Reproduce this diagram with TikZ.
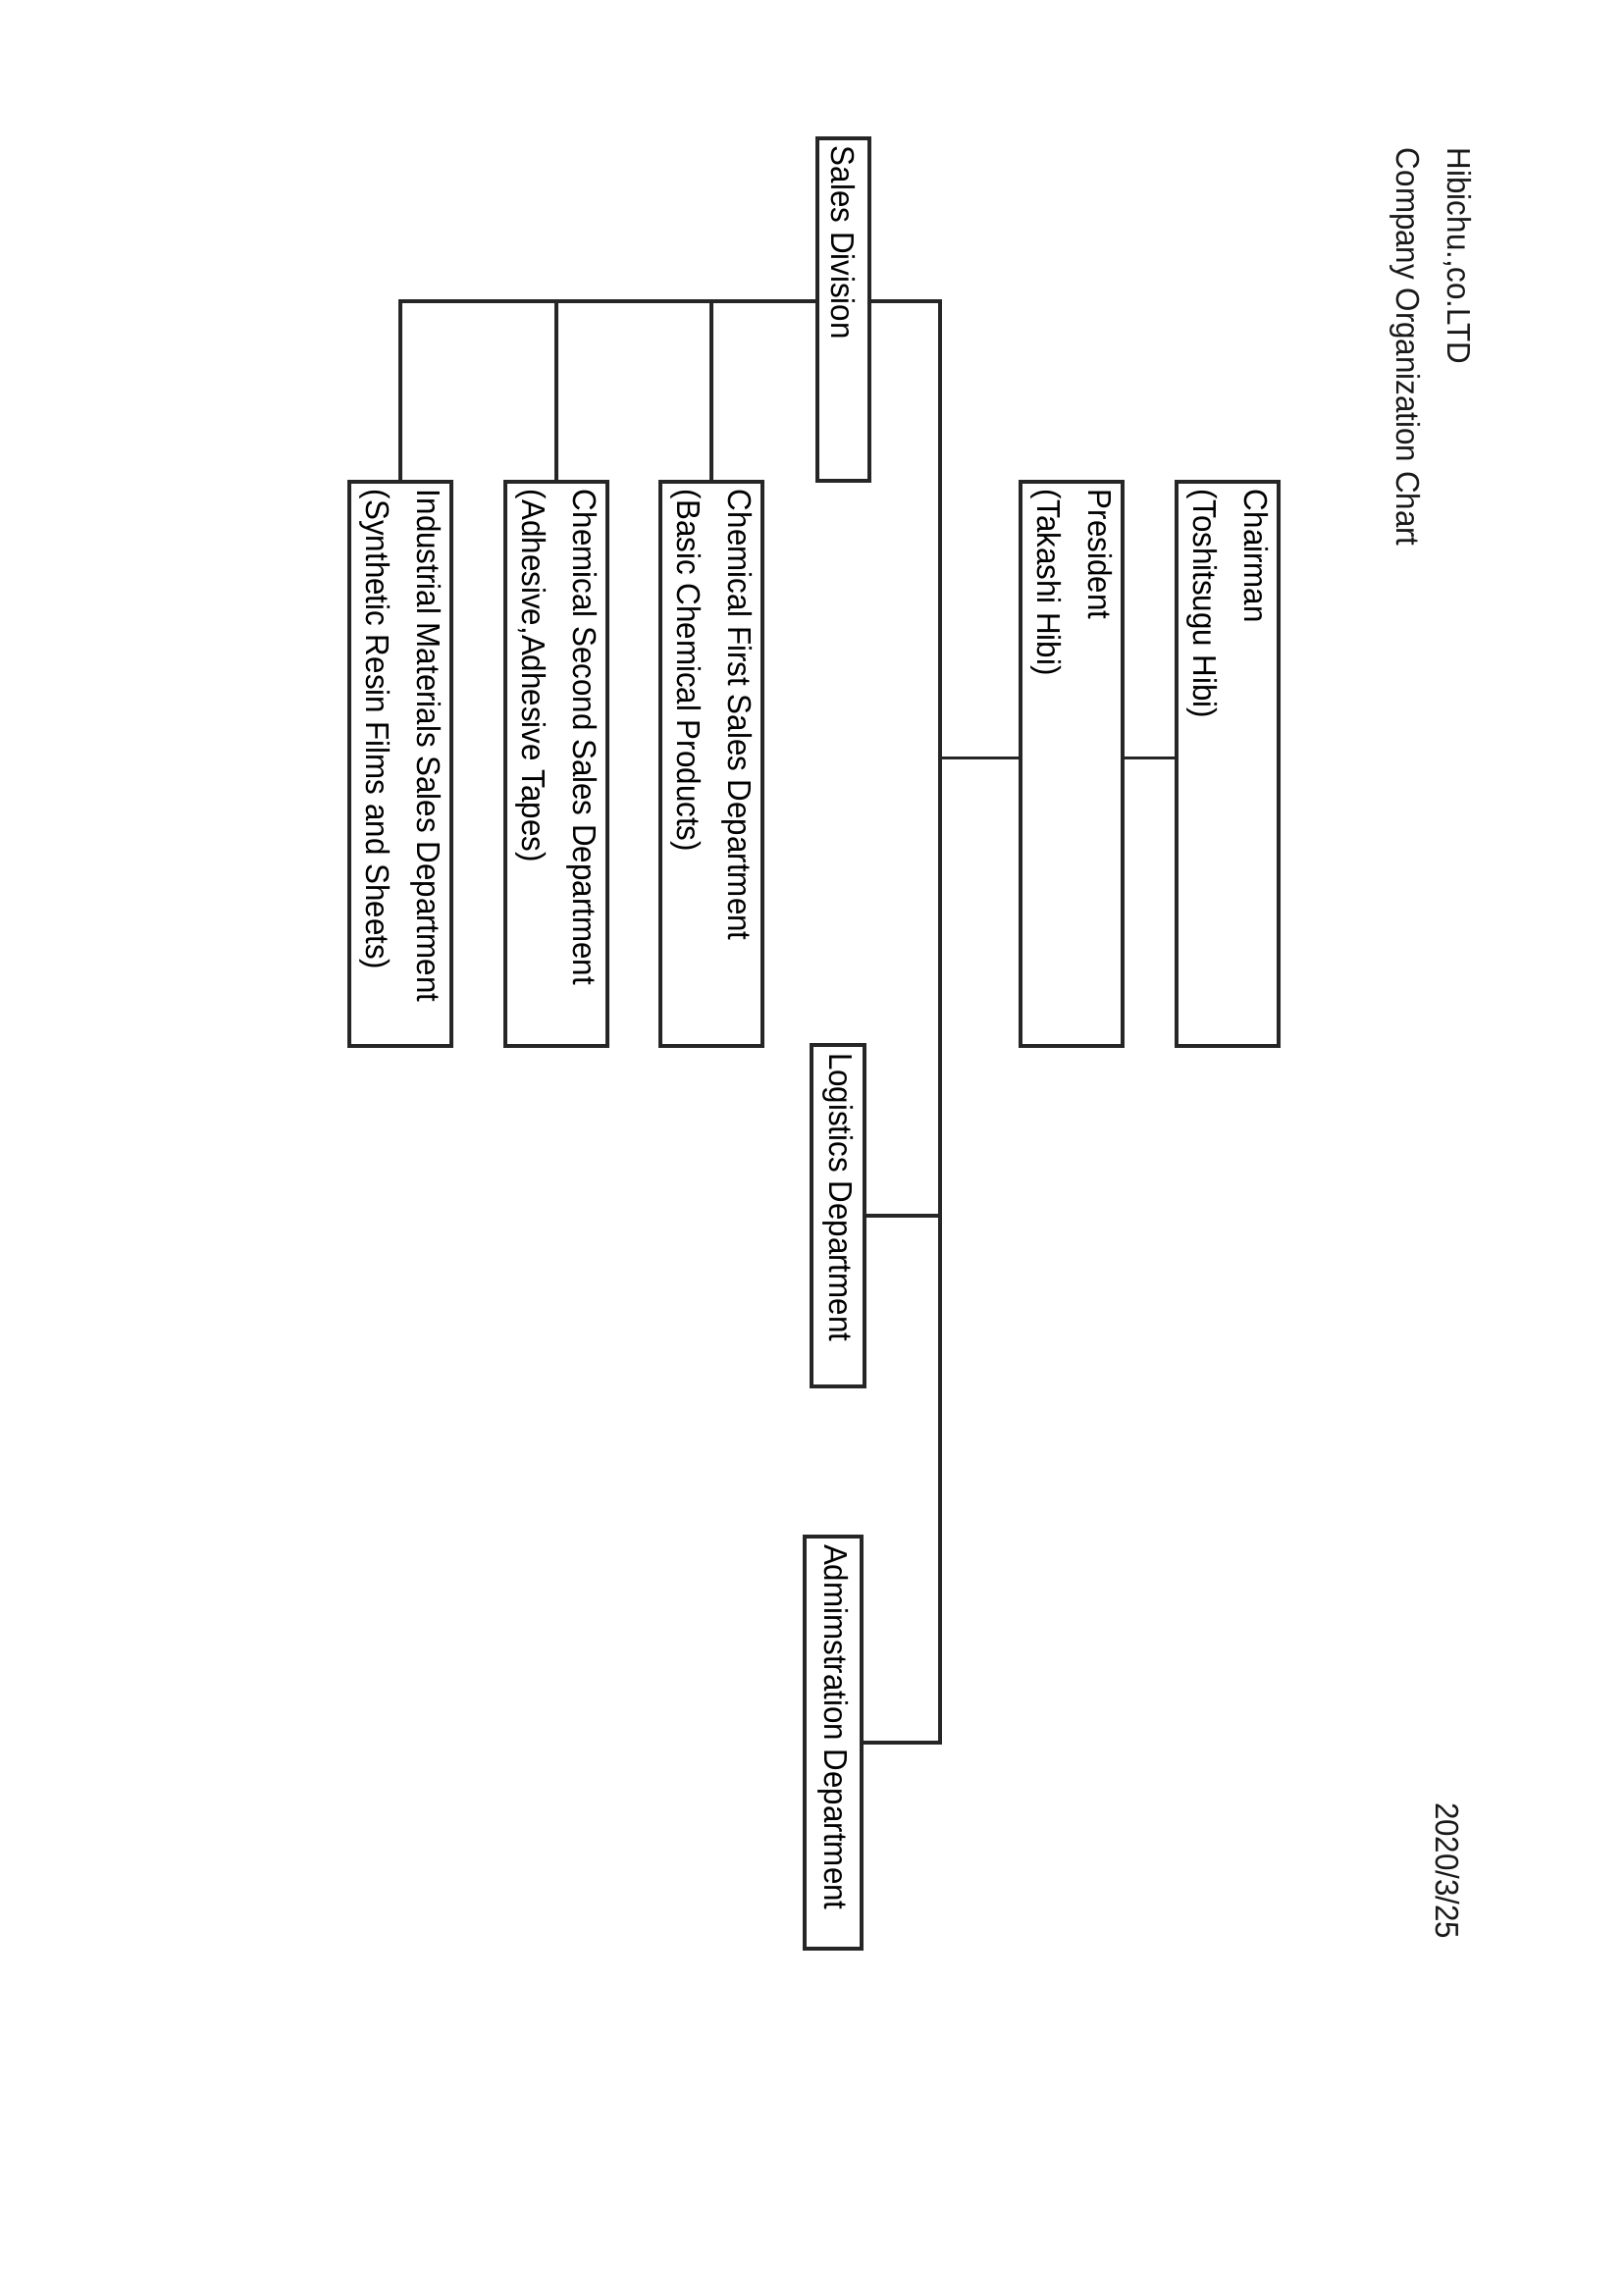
\documentclass[tikz,border=0pt]{standalone}
\usepackage{fontspec}
\setmainfont{Liberation Sans}[FakeStretch=0.94]
\usepackage{graphicx}
\newlength\pxl
\setlength\pxl{0.36pt}
\newcommand{\boxtext}[2]{\rotatebox{-90}{\parbox{#1\pxl}{\raggedright #2}}}
\tikzset{
  orgbox/.style={draw=black!85, line width=1.44pt, inner sep=0pt, outer sep=0pt,
    font=\fontsize{12}{18.6}\selectfont},
  link/.style={draw=black!85, line width=1.1pt},
  headtext/.style={inner sep=0pt, outer sep=0pt, rotate=-90, anchor=base west,
    text=black!90, font=\fontsize{12}{14}\selectfont}
}
\begin{document}
\begin{tikzpicture}[x=0.36pt, y=-0.36pt]
\fill[white] (0,0) rectangle (1654,2340);
\useasboundingbox (0,0) rectangle (1654,2340);

% header texts
\node[headtext] (title) at (1475,151) {Hibichu.,co.LTD};
\node[headtext] (subtitle) at (1423,151) {Company Organization Chart};
\node[headtext] (date) at (1463,1837) {2020/3/25};

% boxes
\node[orgbox, minimum width=104*\pxl, minimum height=575*\pxl] (chair) at (1251,778.5)
  {\boxtext{559}{Chairman\\(Toshitsugu Hibi)}};
\node[orgbox, minimum width=104*\pxl, minimum height=575*\pxl] (pres) at (1092,778.5)
  {\boxtext{559}{President\\(Takashi Hibi)}};
\node[orgbox, minimum width=53*\pxl, minimum height=349*\pxl] (sales) at (859.5,315.5)
  {\boxtext{333}{Sales Division}};
\node[orgbox, minimum width=104*\pxl, minimum height=575*\pxl] (chem1) at (725,778.5)
  {\boxtext{559}{Chemical First Sales Department\\(Basic Chemical Products)}};
\node[orgbox, minimum width=104*\pxl, minimum height=575*\pxl] (chem2) at (567,778.5)
  {\boxtext{559}{Chemical Second Sales Department\\(Adhesive,Adhesive Tapes)}};
\node[orgbox, minimum width=104*\pxl, minimum height=575*\pxl] (ind) at (408,778.5)
  {\boxtext{559}{Industrial Materials Sales Department\\(Synthetic Resin Films and Sheets)}};
\node[orgbox, minimum width=54*\pxl, minimum height=348*\pxl] (logi) at (854,1239)
  {\boxtext{332}{Logistics Department}};
\node[orgbox, minimum width=58*\pxl, minimum height=420*\pxl] (admin) at (849,1776)
  {\boxtext{404}{Admimstration Department}};

% connectors
\coordinate (tb) at (958,1776);
\coordinate (sw) at ([yshift=3.06pt]sales.west);
\coordinate (se) at ([yshift=3.06pt]sales.east);
\draw[link] (se) -| (tb) -- (admin.east);
\draw[link] (logi.east) -- (logi.east -| tb);
\draw[link] ([yshift=2.3pt]pres.west) -- ([yshift=2.3pt]pres.west -| tb);
\draw[link] ([yshift=2.3pt]pres.east) -- ([yshift=2.3pt]chair.west);
\draw[link] (sw) -| (ind.north);
\draw[link] (chem2.north) |- (sw);
\draw[link] (chem1.north) |- (sw);
\end{tikzpicture}
\end{document}
